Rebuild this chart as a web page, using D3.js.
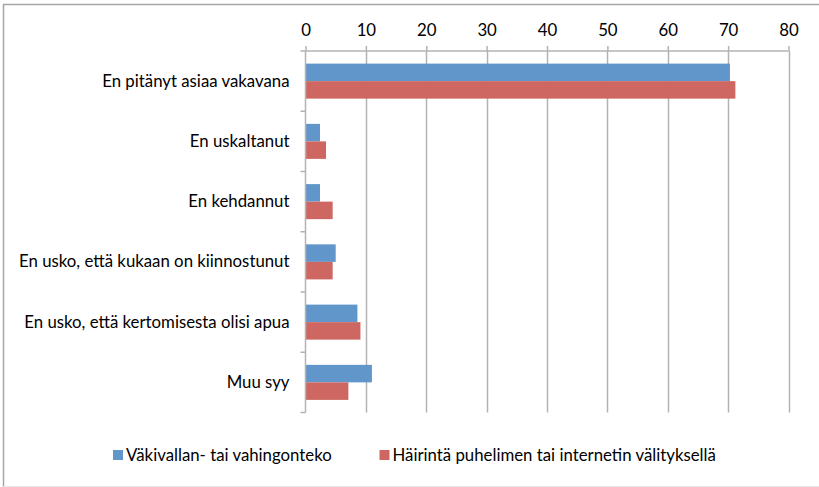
<!DOCTYPE html>
<html>
<head>
<meta charset="utf-8">
<script src="https://cdn.jsdelivr.net/npm/d3@7/dist/d3.min.js"></script>
<style>
  html, body { margin: 0; padding: 0; background: #fff; }
  svg { display: block; }
  text { font-family: Lato, "Open Sans", sans-serif; fill: #000; }
</style>
</head>
<body>
<svg id="chart" width="819" height="487"></svg>
<script>
// Reasons for not reporting, by incident type (%)
const categories = [
  "En pitänyt asiaa vakavana",
  "En uskaltanut",
  "En kehdannut",
  "En usko, että kukaan on kiinnostunut",
  "En usko, että kertomisesta olisi apua",
  "Muu syy"
];
const seriesNames = [
  "Väkivallan- tai vahingonteko",
  "Häirintä puhelimen tai internetin välityksellä"
];
const violenceValues = [70.3, 2.4, 2.4, 5.0, 8.6, 11.0];
const harassmentValues = [71.2, 3.4, 4.5, 4.5, 9.1, 7.1];
const xTicks = [0, 10, 20, 30, 40, 50, 60, 70, 80];
const colors = ["#6096C9", "#CE6762"];

const svg = d3.select("#chart");
const FONT = "16.8px";
const plotLeft = 305.5, plotRight = 788.5, plotTop = 51, plotBottom = 412.5;
const axisGrey = "#b3b3b3";

// outer chart frame (left/top edges visible, bottom faint)
svg.append("line").attr("x1", 3.5).attr("x2", 3.5).attr("y1", 4).attr("y2", 487)
  .attr("stroke", "#a6a6a6").attr("stroke-width", 1.5);
svg.append("line").attr("x1", 3).attr("x2", 819).attr("y1", 4.5).attr("y2", 4.5)
  .attr("stroke", "#a6a6a6").attr("stroke-width", 1.5);
svg.append("line").attr("x1", 3).attr("x2", 819).attr("y1", 486.5).attr("y2", 486.5)
  .attr("stroke", "#e6e6e6").attr("stroke-width", 1);

const x = d3.scaleLinear().domain([0, 80]).range([plotLeft, plotRight]);
const y = d3.scaleBand().domain(categories).range([plotTop, plotBottom]).paddingInner(0).paddingOuter(0);
const inner = d3.scaleBand().domain([0, 1]).range([0, y.bandwidth()]).paddingInner(0).paddingOuter(0.72);

// gridlines
svg.append("g")
  .selectAll("line")
  .data(xTicks.slice(1))
  .join("line")
  .attr("x1", d => Math.round(x(d)) + 0.5).attr("x2", d => Math.round(x(d)) + 0.5)
  .attr("y1", plotTop).attr("y2", plotBottom)
  .attr("stroke", axisGrey).attr("stroke-width", 1.5);

// bars
const groups = svg.append("g")
  .selectAll("g")
  .data(categories)
  .join("g")
  .attr("transform", d => `translate(0,${y(d)})`);

groups.selectAll("rect")
  .data((d, i) => [violenceValues[i], harassmentValues[i]])
  .join("rect")
  .attr("x", x(0))
  .attr("y", (d, j) => inner(j))
  .attr("width", d => x(d) - x(0))
  .attr("height", inner.bandwidth())
  .attr("fill", (d, j) => colors[j]);

// top value axis
const xAxis = d3.axisTop(x).tickValues(xTicks).tickSize(5).tickPadding(10).tickFormat(d3.format("d"));
const gx = svg.append("g").attr("transform", `translate(0,${plotTop})`).call(xAxis);
gx.select(".domain").attr("stroke", axisGrey).attr("stroke-width", 1.5).attr("d", `M${plotLeft},0H${plotRight}`);
gx.selectAll(".tick line").attr("stroke", axisGrey).attr("stroke-width", 1.5);
gx.selectAll(".tick text").style("font-size", FONT).style("font-family", "Lato, sans-serif").attr("fill", "#000");

// category axis
const yAxis = d3.axisLeft(y).tickSize(0).tickPadding(16);
const gy = svg.append("g").attr("transform", `translate(${plotLeft},0)`).call(yAxis);
gy.select(".domain").attr("stroke", axisGrey).attr("stroke-width", 1.5).attr("d", `M0,${plotTop}V${plotBottom}`);
gy.selectAll(".tick text").style("font-size", FONT).style("font-family", "Lato, sans-serif").attr("fill", "#000");

// band separators on the category axis
svg.append("g")
  .selectAll("line")
  .data(categories.map(c => y(c)).concat([plotBottom]))
  .join("line")
  .attr("x1", plotLeft - 5).attr("x2", plotLeft)
  .attr("y1", d => d).attr("y2", d => d)
  .attr("stroke", axisGrey).attr("stroke-width", 1.5);

// legend
const legendItems = [
  { name: seriesNames[0], color: colors[0], x: 113 },
  { name: seriesNames[1], color: colors[1], x: 379.5 }
];
const lg = svg.append("g").selectAll("g").data(legendItems).join("g")
  .attr("transform", d => `translate(${d.x},450)`);
lg.append("rect").attr("x", 0).attr("y", 0).attr("width", 10).attr("height", 10).attr("fill", d => d.color);
lg.append("text").attr("x", 13).attr("y", 11).style("font-size", FONT).text(d => d.name);
</script>
</body>
</html>
